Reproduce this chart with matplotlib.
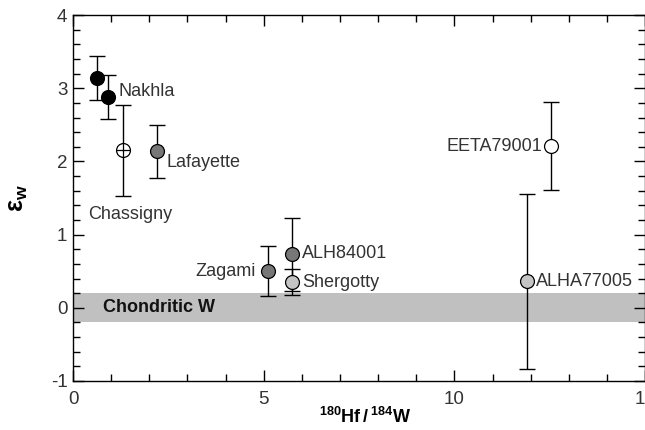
import numpy as np
import matplotlib.pyplot as plt
from matplotlib.ticker import MultipleLocator

plt.rcParams['font.family'] = ['Liberation Sans', 'DejaVu Sans']
plt.rcParams['mathtext.fontset'] = 'custom'
plt.rcParams['mathtext.rm'] = 'Liberation Sans'
plt.rcParams['mathtext.bf'] = 'Liberation Sans:bold'
plt.rcParams['axes.unicode_minus'] = False

names = ["Nakhla", "Nakhla", "Chassigny", "Lafayette", "Zagami",
         "ALH84001", "Shergotty", "EETA79001", "ALHA77005"]
hf_w = [0.63, 0.92, 1.31, 2.2, 5.1, 5.73, 5.73, 12.53, 11.9]
eps_w = [3.14, 2.88, 2.15, 2.14, 0.50, 0.73, 0.35, 2.21, 0.36]
err = [0.30, 0.30, 0.62, 0.36, 0.34, 0.50, 0.18, 0.60, 1.20]
fills = ["black", "black", "white", "#777777", "#777777",
         "#777777", "#c4c4c4", "white", "#c4c4c4"]
chondritic = 0.2

fig = plt.figure(figsize=(6.45, 4.3), dpi=100)
ax = fig.add_axes([0.1132, 0.114, 0.887, 0.851])

ax.axhspan(-chondritic, chondritic, color="#c0c0c0", lw=0, zorder=0)
ax.text(0.78, 0, "Chondritic W", fontweight="bold", fontsize=13,
        va="center", ha="left", color="#111111")

for x, y, e, c in zip(hf_w, eps_w, err, fills):
    ax.errorbar(x, y, yerr=e, fmt="none", ecolor="black", elinewidth=1,
                capsize=6, capthick=1, zorder=2)
    ax.plot(x, y, "o", ms=10, mfc=c, mec="black", mew=0.9, zorder=3)
# Chassigny has a cross in its symbol
ax.plot(hf_w[2], eps_w[2], "+", ms=10, mec="black", mew=0.9, zorder=4)

lab = dict(fontsize=13, color="#333333", va="center")
ax.text(1.18, 2.95, "Nakhla", ha="left", **lab)
ax.text(0.39, 1.27, "Chassigny", ha="left", **lab)
ax.text(2.45, 1.99, "Lafayette", ha="left", **lab)
ax.text(4.78, 0.50, "Zagami", ha="right", **lab)
ax.text(6.0, 0.74, "ALH84001", ha="left", **lab)
ax.text(6.0, 0.35, "Shergotty", ha="left", **lab)
ax.text(12.3, 2.21, "EETA79001", ha="right", **lab)
ax.text(12.15, 0.36, "ALHA77005", ha="left", **lab)

ax.set_xlim(0, 15)
ax.set_ylim(-1, 4)
ax.xaxis.set_major_locator(MultipleLocator(5))
ax.xaxis.set_minor_locator(MultipleLocator(1))
ax.yaxis.set_major_locator(MultipleLocator(1))
ax.yaxis.set_minor_locator(MultipleLocator(0.2))
ax.tick_params(which="both", direction="in", top=True, right=True,
               labelsize=13.5, labelcolor="#333333", width=1)
ax.tick_params(which="major", length=8)
ax.tick_params(which="minor", length=5)
ax.tick_params(axis="x", pad=7)
ax.tick_params(axis="y", pad=4)
for s in ax.spines.values():
    s.set_linewidth(1)

ax.set_xlabel(r"$\mathbf{^{180}Hf\,/\,^{184}W}$", fontsize=13)
ax.xaxis.set_label_coords(0.51, -0.07)
ax.set_ylabel(r"$\mathbf{\varepsilon_w}$", fontsize=18)
ax.yaxis.set_label_coords(-0.075, 0.5)

fig.savefig("out.png", dpi=100)
